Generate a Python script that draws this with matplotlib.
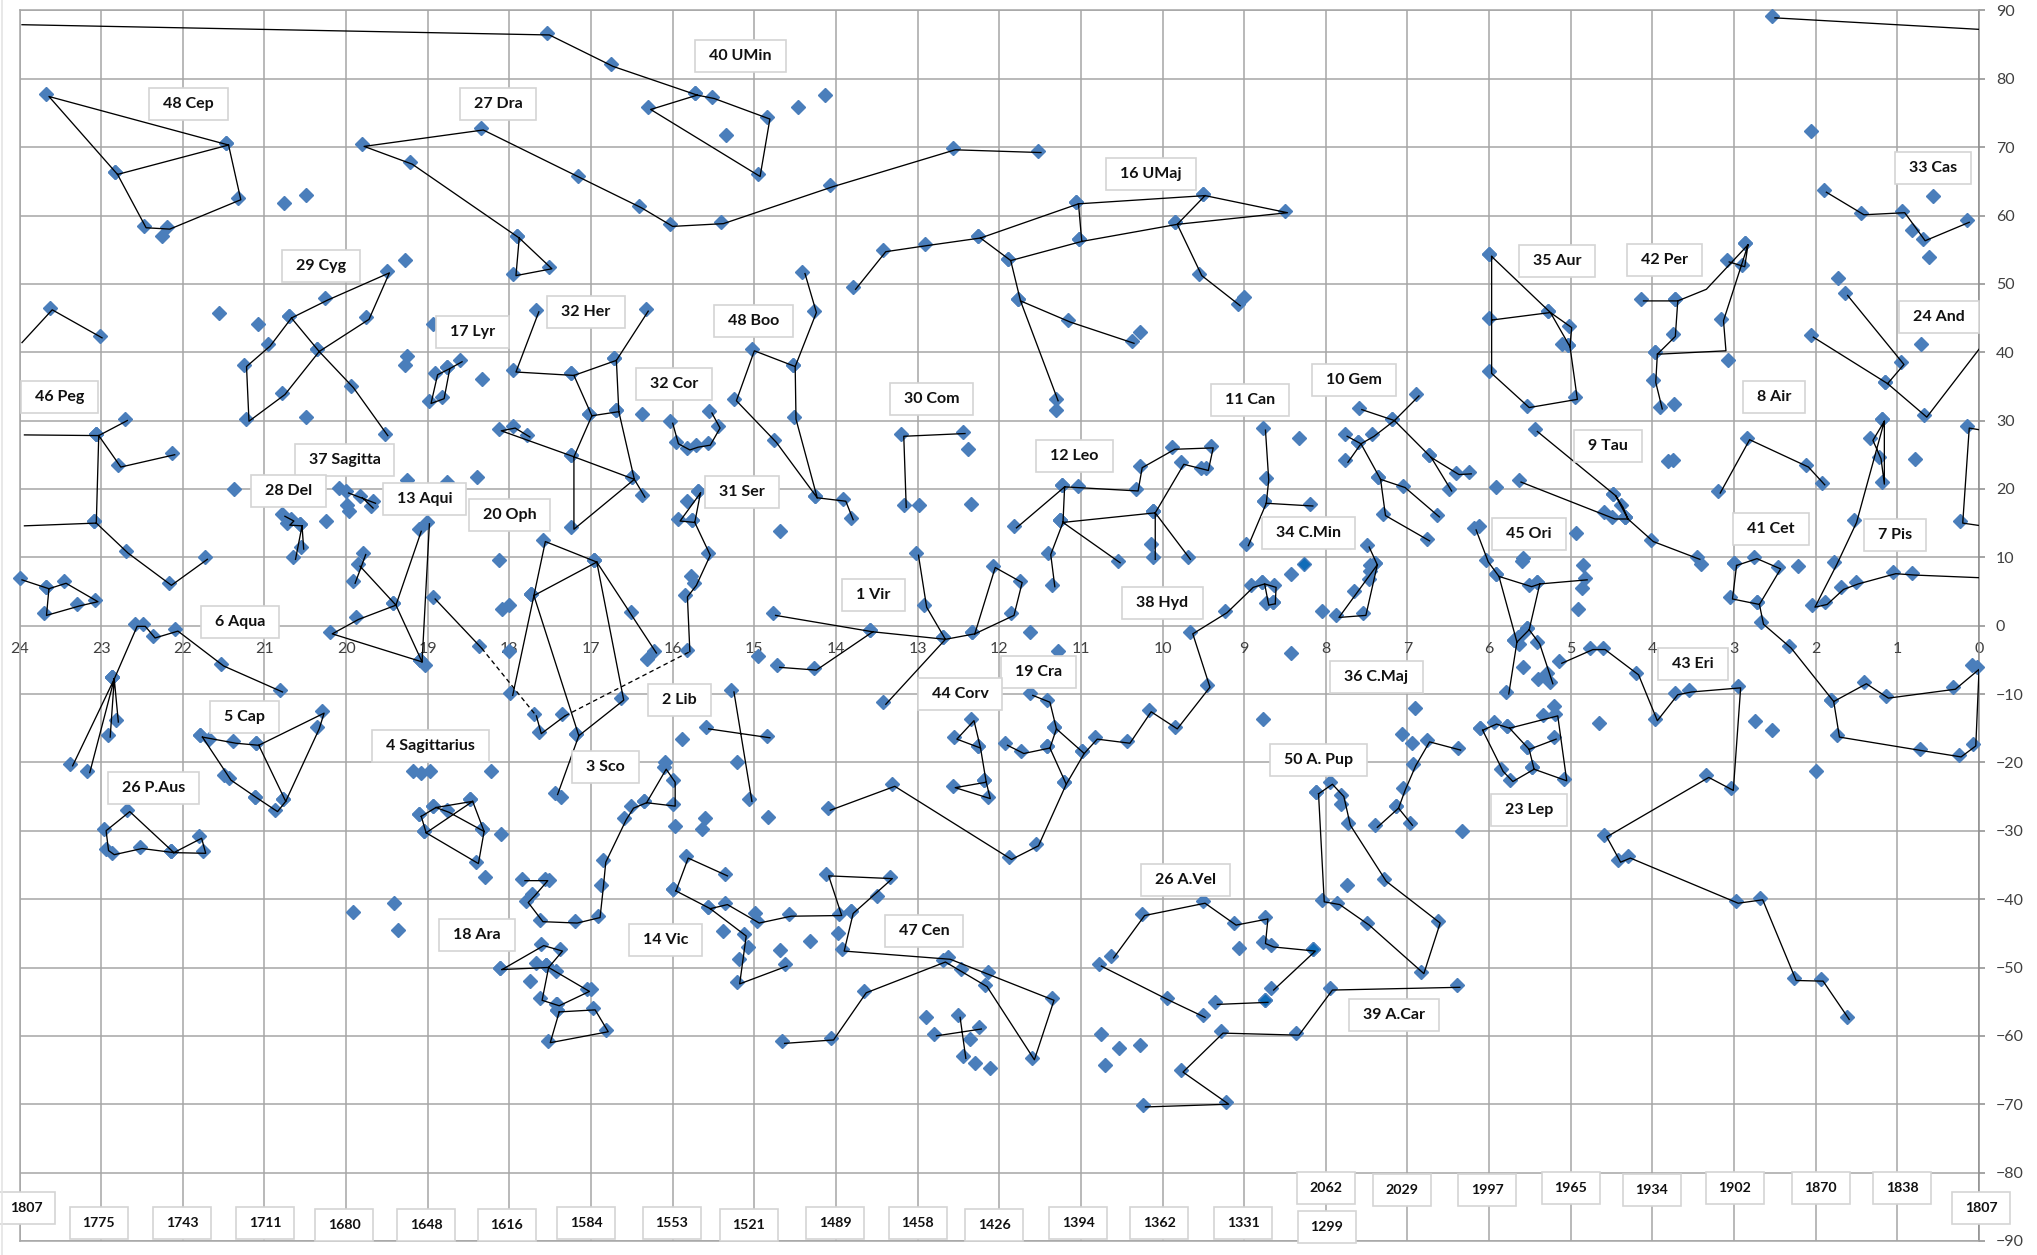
import matplotlib
matplotlib.use('Agg')
import matplotlib.pyplot as plt
import matplotlib.transforms as mtransforms
from matplotlib.lines import Line2D
from matplotlib.patches import Rectangle
import numpy as np

# constellation figures, right ascension (hours) and declination (degrees)
# None breaks a line into separate strokes
umi_ra = [24.0, 17.54, 16.76, 15.73, 15.52, 14.84, 14.96, 16.30, 15.73]
umi_dec = [88.2, 86.7, 82.1, 77.9, 77.4, 74.4, 66.0, 75.8, 77.9]
pol_ra = [2.53, 0.0]
pol_dec = [89.2, 87.5]
cep_ra = [21.47, 23.67, 22.83, 21.47, 21.32, 22.19, 22.48, 22.83]
cep_dec = [70.6, 77.7, 66.3, 70.6, 62.6, 58.3, 58.5, 66.3]
dra_ra = [11.52, 12.57, 14.07, 15.41, 16.03, 16.41, 17.16, 18.35, 19.81, 19.22, 17.91, 17.95, 17.51, 17.91]
dra_dec = [69.5, 69.9, 64.5, 59.1, 58.7, 61.4, 65.8, 72.8, 70.4, 67.8, 57.0, 51.5, 52.5, 57.0]
cyg_ra = [19.52, 19.94, 20.36, 20.70, 20.26, 19.50, 19.75, 20.36, 20.78, 21.22, 21.25, 20.96, 20.70]
cyg_dec = [28.1, 35.1, 40.4, 45.3, 47.9, 51.9, 45.1, 40.4, 34.1, 30.2, 38.2, 41.2, 45.3]
lyr_ra = [18.61, 18.76, 18.91, 18.99, 18.83, 18.76]
lyr_dec = [38.9, 37.9, 37.0, 32.8, 33.5, 37.9]
her_ra = [17.67, 17.95, 17.24, 16.72, 16.33, None, 17.24, 17.02, 17.24, 17.24, 16.50, 16.69, 16.72, None,
          17.02, 16.69, None, 16.37, 16.50, 17.24, 18.13, 17.96, 17.78]
her_dec = [46.2, 37.4, 36.9, 39.1, 46.3, None, 36.9, 31.0, 25.0, 14.4, 21.7, 31.6, 39.1, None,
           31.0, 31.6, None, 19.1, 21.7, 25.0, 28.8, 29.2, 27.9]
cor_ra = [16.03, 15.96, 15.82, 15.72, 15.57, 15.45, 15.55]
cor_dec = [29.9, 26.9, 26.0, 26.4, 26.7, 29.2, 31.4]
boo_ra = [14.41, 14.27, 14.53, 15.03, 15.25, 14.76, 14.26, 14.52, 14.53, None, 14.26, 13.91, 13.82]
boo_dec = [51.8, 46.1, 38.2, 40.5, 33.2, 27.1, 19.0, 30.5, 38.2, None, 19.0, 18.5, 15.8]
com_ra = [12.45, 13.20, 13.17]
com_dec = [28.4, 28.0, 17.6]
uma_ra = [13.79, 13.42, 12.91, 12.26, 11.89, 11.02, 9.85, 8.50, 9.51, 11.06, 12.26, None, 11.06, 11.02, None,
          9.51, 9.85, 9.55, 9.08, None, 11.89, 11.77, 11.31, None, 11.77, 11.16, 10.38]
uma_dec = [49.5, 55.0, 55.9, 57.0, 53.7, 56.5, 59.0, 60.7, 63.2, 62.0, 57.0, None, 62.0, 56.5, None,
           63.2, 59.0, 51.5, 47.1, None, 53.7, 47.8, 33.2, None, 47.8, 44.7, 41.6]
leo_ra = [11.82, 11.23, 10.33, 10.28, 9.88, 9.41, 9.47, 9.77, 10.12, 11.25, 11.23, None, 11.25, 11.40, 11.35, None,
          11.25, 10.55, None, 10.12, 10.12, None, 10.12, 9.69]
leo_dec = [14.6, 20.6, 20.0, 23.4, 26.1, 26.3, 23.0, 23.9, 16.8, 15.4, 20.6, None, 15.4, 10.7, 6.0, None,
           15.4, 9.5, None, 16.8, 10.0, None, 16.8, 10.0]
can_ra = [8.77, 8.73, 8.76, 8.98, None, 8.76, 8.19]
can_dec = [28.9, 21.6, 18.2, 12.0, None, 18.2, 17.8]
hya_ra = [8.65, 8.73, 8.78, 8.92, 9.24, 9.66, 9.45, 9.85, 10.17, 10.43, 10.83, 10.99, 11.21, 11.55, 11.88, 13.31, 14.10]
hya_dec = [3.5, 3.3, 6.4, 5.9, 2.2, -0.9, -8.7, -14.8, -12.3, -16.9, -16.3, -18.4, -22.9, -31.9, -33.9, -23.2, -26.7]
hya_head_ra = [8.78, 8.64, 8.65]
hya_head_dec = [6.4, 5.9, 3.5]
crt_ra = [11.62, 11.41, 11.33, 10.99, None, 11.33, 11.41, 11.21, None, 11.93, 11.73, 11.41]
crt_dec = [-9.9, -10.9, -14.8, -18.4, None, -14.8, -17.6, -22.9, None, -17.2, -18.4, -17.6]
crv_ra = [12.26, 12.34, 12.55, 12.26, 12.19, 12.14, 12.57, 12.19]
crv_dec = [-17.6, -13.6, -16.3, -17.6, -22.6, -25.0, -23.4, -22.6]
vir_ra = [14.72, 14.27, 13.58, None, 14.77, 13.58, 12.69, 12.33, 11.85, 11.75, 12.08, 12.33, None,
          13.02, 12.92, 12.69, 13.42]
vir_dec = [-5.8, -6.2, -0.6, None, 1.8, -0.6, -1.7, -0.9, 1.8, 6.6, 8.8, -0.9, None,
           10.6, 3.0, -1.7, -11.2]
ser_ra = [15.69, 15.94, 15.76, 15.69, None, 15.76, 15.57, 15.74, 15.85, 15.82]
ser_dec = [19.7, 15.6, 15.4, 19.7, None, 15.4, 10.6, 6.2, 4.5, -3.5]
oph_ra = [16.96, 17.59, 17.73, 17.99, None, 17.73, 16.96, 16.63, 17.18, 17.44, None, 17.73, 17.18, None, 16.96, 16.23]
oph_dec = [9.6, 12.6, 4.7, -9.9, None, 4.7, 9.6, -10.6, -15.8, -24.4, None, 4.7, -15.8, None, 9.6, -3.7]
ser_cauda_ra = [17.70, 17.64, 17.35]
ser_cauda_dec = [-12.9, -15.5, -12.9]
dash_ra = [18.37, 17.70, None, 17.35, 15.82]
dash_dec = [-3.0, -12.9, None, -12.9, -3.5]
aql_ra = [19.79, 19.92, None, 19.86, 19.42, 19.10, None, 19.01, 19.10, 20.20, 19.88, 19.42, 19.11, None, 18.94, 18.37]
aql_dec = [10.7, 6.5, None, 9.0, 3.3, -5.0, None, 15.2, -5.0, -0.9, 1.2, 3.3, 14.1, None, 4.2, -3.0]
sge_ra = [20.00, 19.67, None, 19.83, 19.70]
sge_dec = [19.7, 18.2, None, 19.0, 17.5]
del_ra = [20.78, 20.67, 20.72, 20.57, 20.65, None, 20.57, 20.55]
del_dec = [16.3, 15.6, 15.0, 14.9, 10.0, None, 14.9, 11.5]
peg_ra = [23.97, 23.06, 22.71, None, 23.06, 22.79, 22.13, None, 23.06, 23.09, 23.97, None, 23.09, 22.70, 22.17, 21.73]
peg_dec = [28.2, 28.1, 30.3, None, 28.1, 23.5, 25.3, None, 28.1, 15.3, 14.9, None, 15.3, 10.9, 6.2, 10.0]
peg_east_ra = [0.0, 0.15, 0.23, 0.0]
peg_east_dec = [28.9, 29.2, 15.3, 14.9]
and_ra = [24.0, 23.63, 23.02]
and_dec = [41.7, 46.5, 42.4]
and_east_ra = [0.0, 0.67, 1.15, 2.06, None, 1.15, 0.95, 1.64]
and_east_dec = [41.2, 30.8, 35.7, 42.5, None, 35.7, 38.5, 48.6]
psc_west_ra = [24.0, 23.67, 23.70, 23.29, 23.07, 23.46, 23.67]
psc_west_dec = [7.0, 5.7, 1.8, 3.2, 3.8, 6.5, 5.7]
aqr_ra = [23.38, 22.87, 22.59, 22.49, 22.37, 22.09, 21.53, 20.81, None, 22.87, 23.17, None, 22.87, 22.92, None, 22.87, 22.82]
aqr_dec = [-20.2, -7.5, 0.2, 0.2, -1.5, -0.5, -5.6, -9.4, None, -7.5, -21.2, None, -7.5, -16.0, None, -7.5, -13.8]
cap_ra = [21.79, 21.38, 21.10, 20.30, 20.36, 20.77, 21.10, None, 20.77, 20.87, 21.11, 21.44, 21.79]
cap_dec = [-16.0, -16.9, -17.2, -12.5, -14.8, -25.4, -17.2, None, -25.4, -26.9, -25.0, -22.3, -16.0]
psa_ra = [22.14, 22.68, 22.97, 22.94, 22.87, 22.53, 22.14, 21.80, 21.75, 22.14]
psa_dec = [-32.9, -26.9, -29.7, -32.6, -33.2, -32.3, -32.9, -30.8, -33.0, -32.9]
sgr_ra = [19.11, 18.93, 18.77, 18.34, 18.41, 19.05, 19.11, None, 19.05, 18.48, 18.93, None, 18.48, 18.34]
sgr_dec = [-27.6, -26.3, -27.0, -29.8, -34.5, -30.0, -27.6, None, -30.0, -25.4, -26.3, None, -25.4, -29.8]
sco_ra = [17.84, 17.56, 17.72, 17.80, 17.62, 17.20, 16.92, 16.88, 16.85, 16.60, 16.51, 16.35, 16.11, 16.00, 16.00, 16.35]
sco_dec = [-37.0, -37.0, -39.2, -40.2, -43.0, -43.2, -42.4, -38.0, -34.3, -28.1, -26.4, -25.6, -20.7, -22.6, -26.1, -25.6]
lib_ra = [15.28, 15.06, None, 15.59, 14.84]
lib_dec = [-9.4, -25.4, None, -14.8, -16.1]
lup_ra = [15.99, 15.84, 15.36, None, 15.99, 15.57, 15.13, 15.21, 14.63, None, 15.57, 15.36, 14.97, 14.58, 13.96, 14.12, 13.34,
          13.82, 13.93, 12.63, 11.36, 11.60, 12.18, 12.69, 13.66, 14.06, 14.66]
lup_dec = [-38.5, -33.7, -36.3, None, -38.5, -41.1, -45.1, -52.1, -49.5, None, -41.1, -40.5, -43.2, -42.2, -42.1, -36.3, -36.7,
           -41.8, -47.3, -48.5, -54.5, -63.2, -52.5, -48.9, -53.4, -60.3, -60.8]
cru_ra = [12.80, 12.25, None, 12.51, 12.44]
cru_dec = [-59.7, -58.7, None, -57.0, -63.0]
ara_ra = [18.12, 17.61, 17.38, 17.55, 18.12, None, 17.55, 17.05, 17.42, 17.63, 17.55, None, 17.42, 16.98, 16.82, 17.53, 17.42]
ara_dec = [-50.0, -46.5, -47.3, -49.7, -50.0, None, -49.7, -53.2, -55.3, -54.5, -49.7, None, -56.2, -55.9, -59.1, -60.7, -56.2]
aur_ra = [6.00, 5.28, 5.02, 5.04, 4.95, 5.54, 6.00, 6.00, None, 6.00, 5.28, 5.04]
aur_dec = [54.3, 46.1, 43.9, 41.1, 33.4, 32.2, 37.2, 54.3, None, 45.0, 46.1, 41.1]
per_ra = [4.14, 3.72, 3.37, 2.86, 2.90, 3.09, None, 2.86, 3.16, 3.13, 3.97, 3.75, 3.72, None, 3.97, 3.99, 3.91]
per_dec = [47.8, 47.8, 49.5, 56.0, 52.8, 53.5, None, 56.0, 44.9, 40.5, 40.0, 42.6, 47.8, None, 40.0, 35.9, 32.0]
cas_ra = [1.90, 1.44, 0.94, 0.69, 0.15]
cas_dec = [63.7, 60.4, 60.7, 56.6, 59.3]
tau_ra = [5.44, 4.48, 4.33, 4.02, 3.45, None, 5.64, 4.49, 4.33, None, 4.48, 4.39, 4.33]
tau_dec = [28.7, 19.3, 15.9, 12.6, 10.0, None, 21.3, 15.9, 15.9, None, 19.3, 17.6, 15.9]
ari_ra = [3.20, 2.84, 2.12, 1.92]
ari_dec = [19.7, 27.5, 23.5, 20.9]
psc_ra = [1.19, 1.33, 1.23, 1.19, 1.19, 1.53, 1.77, 2.04, 1.89, 1.69, 1.51, 1.05, 0.82, 0.0]
psc_dec = [30.2, 27.4, 24.7, 21.0, 30.2, 15.4, 9.3, 3.0, 3.4, 5.6, 6.4, 7.9, 7.7, 7.3]
cet_ra = [3.00, 2.75, 2.46, 2.72, 3.05, 3.00, None, 2.72, 2.67, 2.33, 1.81, 1.41, 1.14, 0.32, 0.03, 0.07, 0.25, 0.72, 1.74, 1.81]
cet_dec = [9.1, 10.1, 8.6, 3.4, 4.2, 9.1, None, 3.4, 0.5, -3.0, -10.8, -8.2, -10.3, -9.0, -6.1, -17.3, -18.9, -18.0, -16.0, -10.8]
eri_ra = [5.14, 4.76, 4.61, 4.20, 3.97, 3.72, 3.55, 2.95, 3.04, 3.34, 4.59, 4.42, 4.30, 2.98, 2.68, 2.27, 1.94, 1.62]
eri_dec = [-5.2, -3.2, -3.2, -6.9, -13.6, -9.8, -9.4, -8.8, -23.8, -21.9, -30.6, -34.3, -33.7, -40.3, -39.8, -51.6, -51.7, -57.3]
ori_ra = [6.19, 6.04, 5.91, 5.69, 5.79, None, 5.91, 5.51, 5.41, 4.83, None, 5.41, 5.54, 5.69, None, 5.54, 5.41, 5.25]
ori_dec = [14.3, 9.6, 7.5, -2.1, -9.7, None, 7.5, 6.0, 6.4, 7.0, None, 6.4, -0.3, -2.1, None, -0.3, -2.4, -8.2]
lep_ra = [6.11, 5.94, 5.78, 5.19, 5.08, 5.48, 5.74, 5.86, 6.11, None, 5.78, 5.54, 5.48, None, 5.54, 5.21]
lep_dec = [-15.0, -14.1, -14.7, -12.9, -22.4, -20.7, -22.5, -21.0, -15.0, None, -14.7, -17.8, -20.7, None, -17.8, -16.3]
cma_ra = [6.38, 6.76, 6.93, 7.06, 7.14, 7.40, None, 7.14, 6.97]
cma_dec = [-17.9, -16.7, -20.2, -23.8, -26.4, -29.2, None, -26.4, -28.9]
pup_ra = [8.12, 8.05, 7.86, 7.50, 6.83, 6.63, 7.29, 7.73, 7.81, 7.95, 8.12]
pup_dec = [-24.3, -40.1, -40.5, -43.5, -50.6, -43.2, -37.1, -28.9, -24.7, -22.9, -24.3]
car_ra = [6.39, 7.95, 8.36, 9.29, 9.78, 9.22, 10.24]
car_dec = [-52.6, -53.0, -59.6, -59.3, -65.0, -69.7, -70.1]
vel_ra = [10.63, 10.25, 9.51, 9.13, 8.74, 8.77, 8.67, 8.16, 8.67, None, 9.36, 8.74, None, 10.78, 9.95, 9.51]
vel_dec = [-48.3, -42.1, -40.3, -43.5, -42.6, -46.2, -46.7, -47.3, -53.0, None, -55.1, -54.8, None, -49.5, -54.5, -57.0]
gem_ra = [7.76, 7.60, 7.44, 7.19, 6.89, None, 7.77, 7.60, 7.36, 7.30, 6.76, None, 7.36, 7.06, 6.64, None,
          7.59, 7.19, 6.74, 6.40, 6.25, None, 6.74, 6.49]
gem_dec = [24.2, 26.9, 28.0, 30.3, 33.9, None, 28.0, 26.9, 21.7, 16.4, 12.7, None, 21.7, 20.5, 16.2, None,
           31.9, 30.3, 24.9, 22.4, 22.5, None, 24.9, 20.0]
cmi_ra = [7.50, 7.40, 7.54, 7.87, 7.40]
cmi_dec = [11.8, 9.2, 1.8, 1.5, 9.2]

figure_lines = [
    (umi_ra, umi_dec), (pol_ra, pol_dec), (cep_ra, cep_dec), (dra_ra, dra_dec), (cyg_ra, cyg_dec),
    (lyr_ra, lyr_dec), (her_ra, her_dec), (cor_ra, cor_dec), (boo_ra, boo_dec), (com_ra, com_dec),
    (uma_ra, uma_dec), (leo_ra, leo_dec), (can_ra, can_dec), (hya_ra, hya_dec), (hya_head_ra, hya_head_dec),
    (crt_ra, crt_dec), (crv_ra, crv_dec), (vir_ra, vir_dec), (ser_ra, ser_dec), (oph_ra, oph_dec),
    (ser_cauda_ra, ser_cauda_dec), (aql_ra, aql_dec), (sge_ra, sge_dec), (del_ra, del_dec), (peg_ra, peg_dec),
    (peg_east_ra, peg_east_dec), (and_ra, and_dec), (and_east_ra, and_east_dec), (psc_west_ra, psc_west_dec),
    (aqr_ra, aqr_dec), (cap_ra, cap_dec), (psa_ra, psa_dec), (sgr_ra, sgr_dec), (sco_ra, sco_dec),
    (lib_ra, lib_dec), (lup_ra, lup_dec), (cru_ra, cru_dec), (ara_ra, ara_dec), (aur_ra, aur_dec),
    (per_ra, per_dec), (cas_ra, cas_dec), (tau_ra, tau_dec), (ari_ra, ari_dec), (psc_ra, psc_dec),
    (cet_ra, cet_dec), (eri_ra, eri_dec), (ori_ra, ori_dec), (lep_ra, lep_dec), (cma_ra, cma_dec),
    (pup_ra, pup_dec), (car_ra, car_dec), (vel_ra, vel_dec), (gem_ra, gem_dec), (cmi_ra, cmi_dec),
]

# line vertices with no star on them
bare_ra = [24.0, 0.0, 23.97, 23.97, 3.37, 3.13, 24.0, 0.0, 0.0, 0.0, 0.0]
bare_dec = [88.2, 87.5, 28.2, 14.9, 49.5, 40.5, 41.7, 41.2, 28.9, 14.9, 7.3]

# stars not on any line
extra_ra = [15.35, 14.46, 14.14, 22.25, 20.76, 20.49, 19.28, 21.56, 21.08, 20.49, 18.93, 19.25, 19.28, 18.34,
            16.38, 14.68, 12.38, 12.35, 12.98, 9.00, 10.28, 11.30, 11.04, 10.14, 9.53, 8.33, 8.43, 8.05,
            7.66, 11.62, 11.28, 14.96, 15.82, 15.77, 18.01, 18.09, 18.01, 16.51, 16.32, 18.13, 18.40, 19.26,
            18.77, 21.37, 20.25, 20.09, 19.99, 19.96, 19.10, 19.03, 18.23, 18.10, 18.30, 19.18, 19.08, 18.97,
            17.51, 17.37, 17.43, 17.00, 17.75, 17.68, 17.43, 19.92, 19.41, 19.37, 21.68, 21.49, 21.11, 15.21,
            14.83, 15.61, 15.64, 15.38, 14.69, 14.32, 15.08, 15.19, 14.99, 13.50, 13.97, 13.82, 12.47, 12.14,
            12.90, 12.36, 12.30, 12.11, 10.75, 10.53, 10.27, 10.71, 9.06, 8.77, 8.43, 16.10, 15.97, 15.88,
            5.11, 3.74, 3.08, 2.06, 0.82, 0.56, 0.61, 1.73, 0.71, 0.78, 3.81, 3.75, 4.94, 4.85, 4.86, 4.91,
            5.91, 6.12, 5.60, 5.58, 5.63, 5.59, 5.65, 5.58, 5.40, 5.29, 5.34, 5.20, 3.41, 4.59, 2.22, 0.08, 4.65,
            2.74, 2.54, 2.00, 6.91, 7.07, 6.94, 6.33, 7.81, 7.74, 7.46, 7.46, 7.47]
extra_dec = [71.8, 75.8, 77.6, 57.0, 61.9, 63.0, 53.5, 45.8, 44.1, 30.5, 44.1, 39.4, 38.2, 36.1,
             30.9, 13.9, 25.9, 17.8, 17.6, 48.1, 43.0, 31.6, 20.4, 12.0, 23.0, 27.4, 7.6, 2.1,
             5.1, -0.9, -3.7, -4.4, 18.2, 7.3, 3.1, 2.5, -3.7, 2.0, -4.9, 9.6, 21.8, 21.3,
             21.0, 20.0, 15.3, 20.1, 17.7, 16.8, -5.0, -5.7, -21.2, -30.4, -36.7, -21.2, -21.6, -21.2,
             -37.2, -25.1, -50.5, -53.2, -51.9, -49.3, -55.3, -41.9, -40.6, -44.5, -16.6, -21.9, -25.0, -19.9,
             -28.0, -28.2, -29.8, -44.6, -47.4, -46.1, -47.0, -48.8, -42.0, -39.5, -44.9, -41.8, -50.2, -50.7,
             -57.3, -60.4, -63.9, -64.7, -59.7, -61.7, -61.4, -64.2, -47.1, -13.6, -4.0, -20.0, -29.3, -16.6,
             41.2, 32.4, 38.9, 72.4, 57.9, 62.9, 53.9, 50.8, 41.2, 24.4, 24.1, 24.2, 13.5, 8.9, 5.5, 2.4,
             20.3, 14.6, 9.5, 9.9, -2.7, -1.0, -1.7, -6.0, -7.8, -6.9, -13.1, -11.8, 9.0, 16.6, 8.8, -5.8, -14.2,
             -13.9, -15.2, -21.2, -12.1, -15.8, -17.1, -30.1, -26.1, -38.0, 8.9, 8.0, 6.8]

# a few stars in a stronger blue
dark_ra = [8.27, 8.16, 8.74]
dark_dec = [9.0, -47.3, -54.8]

# constellation name boxes
names = ['48 Cep', '27 Dra', '40 UMin', '16 UMaj', '33 Cas', '29 Cyg', '35 Aur', '42 Per', '17 Lyr', '32 Her',
         '48 Boo', '24 And', '46 Peg', '32 Cor', '30 Com', '11 Can', '10 Gem', '8 Air', '9 Tau', '12 Leo',
         '37 Sagitta', '28 Del', '31 Ser', '13 Aqui', '20 Oph', '34 C.Min', '41 Cet', '45 Ori', '7 Pis', '1 Vir',
         '38 Hyd', '6 Aqua', '43 Eri', '19 Cra', '36 C.Maj', '44 Corv', '2 Lib', '5 Cap', '4 Sagittarius',
         '50 A. Pup', '3 Sco', '26 P.Aus', '23 Lep', '18 Ara', '14 Vic', '26 A.Vel', '47 Cen', '39 A.Car']
name_ra = [21.93, 18.14, 15.17, 10.14, 0.56, 20.31, 5.17, 3.85, 18.45, 17.06,
           15.01, 0.49, 23.51, 15.98, 12.83, 8.93, 7.66, 2.51, 4.54, 11.08,
           20.02, 20.71, 15.15, 19.04, 18.0, 8.21, 2.55, 5.51, 1.03, 13.54,
           10.0, 21.3, 3.5, 11.52, 7.38, 12.48, 15.92, 21.25, 18.97,
           8.09, 16.82, 22.36, 5.51, 18.4, 16.09, 9.72, 12.92, 7.16]
name_dec = [76.3, 76.3, 83.3, 66.1, 67.0, 52.6, 53.3, 53.5, 43.0, 45.9,
            44.6, 45.1, 33.4, 35.4, 33.2, 33.0, 36.0, 33.5, 26.3, 24.8,
            24.2, 19.7, 19.5, 18.5, 16.2, 13.6, 14.2, 13.4, 13.2, 4.5,
            3.3, 0.5, -5.6, -6.8, -7.5, -10.0, -10.8, -13.4, -17.6,
            -19.7, -20.6, -23.7, -26.9, -45.3, -45.9, -37.2, -44.6, -56.9]

# year boxes along the bottom
years = ['1807', '1775', '1743', '1711', '1680', '1648', '1616', '1584', '1553', '1521', '1489', '1458', '1426',
         '1394', '1362', '1331', '2062', '1299', '2029', '1997', '1965', '1934', '1902', '1870', '1838', '1807']
year_ra = [23.92, 23.03, 22.01, 20.99, 20.02, 19.02, 18.03, 17.06, 16.01, 15.07, 14.01, 13.0, 12.06,
           11.03, 10.04, 9.01, 8.0, 7.99, 7.07, 6.02, 5.0, 4.01, 2.99, 1.94, 0.94, -0.03]
year_dec = [-85.1, -87.3, -87.3, -87.3, -87.7, -87.7, -87.7, -87.3, -87.3, -87.7, -87.3, -87.3, -87.7,
            -87.3, -87.3, -87.3, -82.2, -87.9, -82.6, -82.6, -82.2, -82.6, -82.2, -82.2, -82.2, -85.1]

plt.rcParams['font.family'] = ['Lato', 'DejaVu Sans']

W, H = 2037, 1255
fig = plt.figure(figsize=(W / 100, H / 100), dpi=100)
ax = fig.add_axes([19.5 / W, 1 - 1241 / H, (1979 - 19.5) / W, (1241 - 10.4) / H])
ax.set_xlim(24, 0)
ax.set_ylim(-90, 90)

ax.set_xticks(range(0, 25))
ax.set_yticks(range(-90, 91, 10))
ax.grid(True, color='#a6a6a6', linewidth=1.1)
ax.set_axisbelow(True)
for side in ['top', 'left', 'bottom']:
    ax.spines[side].set_color('#a6a6a6')
    ax.spines[side].set_linewidth(1.1)
ax.spines['right'].set_color('#8c8c8c')
ax.spines['right'].set_linewidth(1.1)
ax.yaxis.tick_right()
ax.tick_params(axis='y', length=4.5, width=1.1, color='#8c8c8c', labelsize=11.5, labelcolor='#404040', pad=7.7)
ax.tick_params(axis='x', length=0, labelbottom=False)
for hour in range(0, 25):
    ax.text(hour, -3.4, str(hour), ha='center', va='center', fontsize=11.5, color='#404040', zorder=1)

# faint edge of the pasted sheet
fig.add_artist(Line2D([1.5 / W, 1.5 / W], [0, 1], color='#e4e4e4', linewidth=1.2))

# figure lines sit a little off the star centres, as in the original sheet
shift = mtransforms.ScaledTranslation(2.5 / 100, -2 / 100, fig.dpi_scale_trans)
line_tr = ax.transData + shift

bare = set(zip(bare_ra, bare_dec))
star_ra = list(extra_ra)
star_dec = list(extra_dec)
for ra, dec in figure_lines:
    for r, d in zip(ra, dec):
        if r is not None and (r, d) not in bare:
            star_ra.append(r)
            star_dec.append(d)

ax.plot(star_ra, star_dec, linestyle='none', marker='D', markersize=7.4, color='#4a7ebb',
        markeredgecolor='#4a7ebb', clip_on=False, zorder=3)
ax.plot(dark_ra, dark_dec, linestyle='none', marker='D', markersize=7.4, color='#0f6cb8',
        markeredgecolor='#4a7ebb', clip_on=False, zorder=3)

for ra, dec in figure_lines:
    ax.plot(np.array(ra, dtype=float), np.array(dec, dtype=float), color='black', linewidth=0.95,
            transform=line_tr, zorder=4)
ax.plot(np.array(dash_ra, dtype=float), np.array(dash_dec, dtype=float), color='black', linewidth=0.95,
        linestyle=(0, (3.5, 2.5)), transform=line_tr, zorder=4)

renderer = fig.canvas.get_renderer()
hour_px = (1979 - 19.5) / 24
deg_px = (1241 - 10.4) / 180


def add_box(x, y, label, size, box_w=None):
    t = ax.text(x, y, label, ha='center', va='center', fontsize=size, fontweight='bold', color='#111111', zorder=6)
    if box_w is None:
        box_w = t.get_window_extent(renderer).width + 28
    w = box_w / hour_px
    h = 32 / deg_px
    ax.add_patch(Rectangle((x - w / 2, y - h / 2), w, h, facecolor='white', edgecolor='#d4d4d4',
                           linewidth=1.2, clip_on=False, zorder=5))


for label, x, y in zip(names, name_ra, name_dec):
    add_box(x, y, label, 11.5)
for label, x, y in zip(years, year_ra, year_dec):
    add_box(x, y, label, 10.2, box_w=58)

fig.savefig('out.png', dpi=100)
